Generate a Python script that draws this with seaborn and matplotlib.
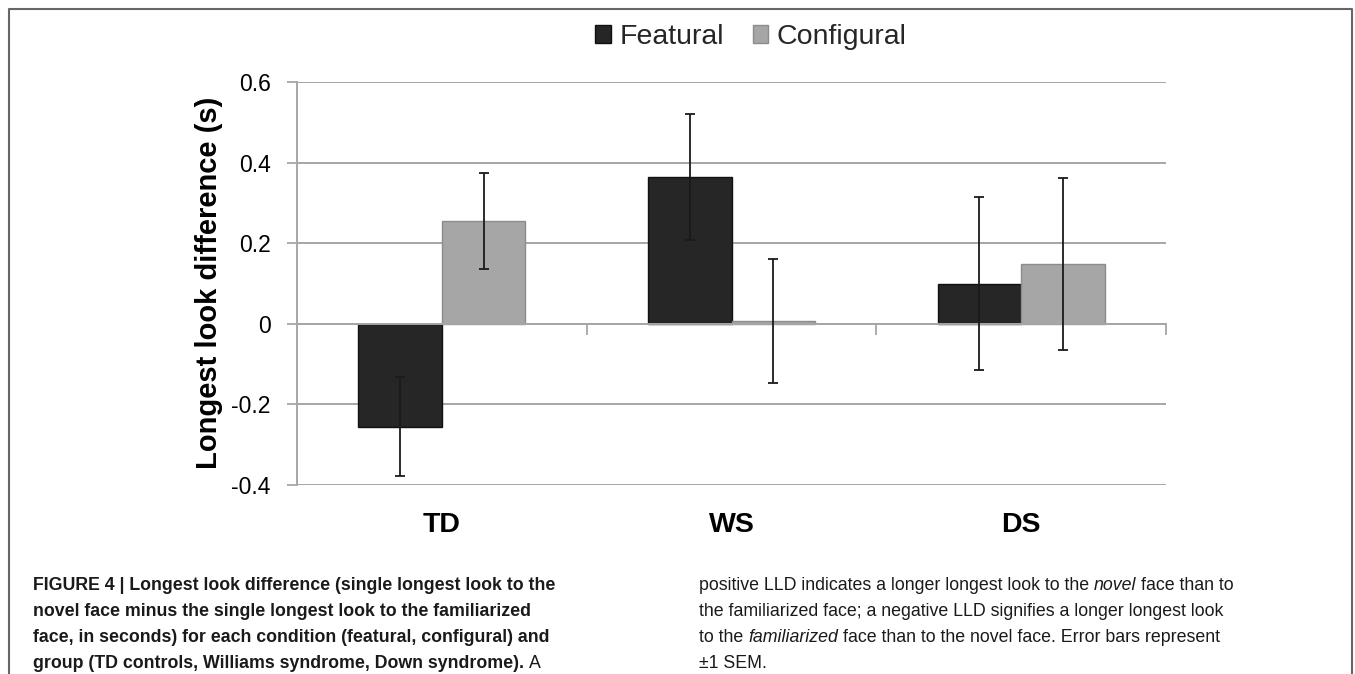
import numpy as np
import pandas as pd
import matplotlib
matplotlib.use("Agg")
import matplotlib.pyplot as plt
import seaborn as sns
from matplotlib.lines import Line2D
from matplotlib.patches import Patch
import matplotlib.transforms as mtransforms

# values
groups = ["TD", "WS", "DS"]
conditions = ["Featural", "Configural"]
featural = [-0.255, 0.364, 0.100]
configural = [0.255, 0.006, 0.149]
featural_sem = [0.122, 0.156, 0.215]
configural_sem = [0.120, 0.154, 0.213]
yticks = [-0.4, -0.2, 0, 0.2, 0.4, 0.6]
ytick_labels = ["-0.4", "-0.2", "0", "0.2", "0.4", "0.6"]
bar_colors = ["#262626", "#a6a6a6"]
edge_colors = ["#111111", "#8c8c8c"]

df = pd.DataFrame({
    "group": groups * 2,
    "condition": [c for c in conditions for _ in groups],
    "value": featural + configural,
})

sns.set_theme(style="white")
plt.rcParams['font.family'] = ['Liberation Sans', 'DejaVu Sans']

W, H = 1355, 674
fig = plt.figure(figsize=(W / 100, H / 100), dpi=100)
ax = fig.add_axes([297 / W, 1 - 485 / H, (1166 - 297) / W, (485 - 82) / H])

sns.barplot(data=df, x="group", y="value", hue="condition", palette=bar_colors,
            width=0.577, errorbar=None, legend=False, saturation=1, ax=ax, zorder=2)

for cont, ec, sem in zip(ax.containers, edge_colors, [featural_sem, configural_sem]):
    xs = []
    for p in cont:
        p.set_edgecolor(ec)
        p.set_linewidth(1.0)
        xs.append(p.get_x() + p.get_width() / 2)
    ax.errorbar(xs, [p.get_y() + p.get_height() for p in cont], yerr=sem, fmt="none",
                ecolor="#1a1a1a", elinewidth=1.3, capsize=3.6, capthick=1.3, zorder=4)

grid_c = "#a6a6a6"
ax.set_xlim(-0.5, 2.5)
ax.set_ylim(-0.4, 0.6)
ax.set_yticks(yticks, labels=ytick_labels)
ax.set_axisbelow(True)
ax.yaxis.grid(True, color=grid_c, lw=1.4)
ax.xaxis.grid(False)
for s in ["top", "right"]:
    ax.spines[s].set_visible(False)
ax.spines["left"].set_color(grid_c)
ax.spines["left"].set_linewidth(1.4)
ax.spines["bottom"].set_position(("data", 0))
ax.spines["bottom"].set_color(grid_c)
ax.spines["bottom"].set_linewidth(1.4)
ax.spines["bottom"].set_zorder(3)

ax.set_xticks([0.5, 1.5, 2.5], labels=["", "", ""])
ax.tick_params(axis="x", direction="out", length=8, width=1.3, color=grid_c, bottom=True)
ax.tick_params(axis="y", direction="out", length=7, width=1.3, color=grid_c, left=True,
               labelsize=16.5, labelcolor="black", pad=12)
ax.set_xlabel("")
ax.set_ylabel("")

trans = mtransforms.blended_transform_factory(ax.transData, ax.transAxes)
for i, g in enumerate(groups):
    ax.text(i, -0.1, g, transform=trans, ha="center", va="center",
            fontsize=20.5, fontweight="bold", color="black")

fig.text(209 / W, 1 - 283 / H, "Longest look difference (s)", rotation=90,
         ha="center", va="center", fontsize=21, fontweight="bold", color="black")

handles = [Patch(facecolor=c, edgecolor=e, lw=1, label=l)
           for c, e, l in zip(bar_colors, ["#111111", "#8c8c8c"], conditions)]
fig.legend(handles=handles, loc="center", bbox_to_anchor=(751 / W, 1 - 37 / H), ncol=2,
           frameon=False, fontsize=20.5, handlelength=0.55, handleheight=0.55,
           handletextpad=0.3, columnspacing=1.0, borderaxespad=0)

# frame around figure panel
fig.add_artist(Line2D([9 / W, 9 / W, 1352 / W, 1352 / W], [0, 1 - 9 / H, 1 - 9 / H, 0],
                      transform=fig.transFigure, color="#666666", lw=1.5))

# caption
renderer = fig.canvas.get_renderer()
cap_size = 12.8


def text_width(s, **kw):
    t = fig.text(0, 0, s, fontsize=cap_size, **kw)
    w = t.get_window_extent(renderer).width
    t.remove()
    return w


def draw_runs(x_px, y_px, runs):
    x = x_px
    for k, (s, weight, style) in enumerate(runs):
        if k > 0:
            x += text_width("a a", fontweight=weight, fontstyle=style) - \
                text_width("aa", fontweight=weight, fontstyle=style)
        t = fig.text(x / W, 1 - y_px / H, s, fontsize=cap_size, fontweight=weight,
                     fontstyle=style, ha="left", va="baseline", color="#1a1a1a")
        x += t.get_window_extent(renderer).width


left_lines = [
    [("FIGURE 4 | Longest look difference (single longest look to the", "bold", "normal")],
    [("novel face minus the single longest look to the familiarized", "bold", "normal")],
    [("face, in seconds) for each condition (featural, configural) and", "bold", "normal")],
    [("group (TD controls, Williams syndrome, Down syndrome).", "bold", "normal"),
     ("A", "normal", "normal")],
]
right_lines = [
    [("positive LLD indicates a longer longest look to the", "normal", "normal"),
     ("novel", "normal", "italic"), ("face than to", "normal", "normal")],
    [("the familiarized face; a negative LLD signifies a longer longest look", "normal", "normal")],
    [("to the", "normal", "normal"), ("familiarized", "normal", "italic"),
     ("face than to the novel face. Error bars represent", "normal", "normal")],
    [("±1 SEM.", "normal", "normal")],
]
baselines = [590, 616, 642, 668]
for line, yb in zip(left_lines, baselines):
    draw_runs(33, yb, line)
for line, yb in zip(right_lines, baselines):
    draw_runs(699, yb, line)

fig.savefig("out.png", dpi=100)
